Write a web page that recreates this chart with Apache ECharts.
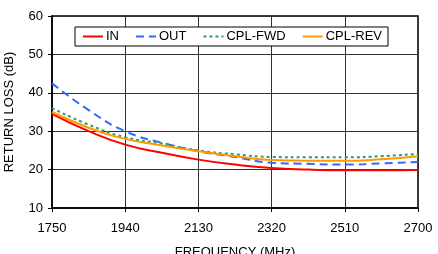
<!DOCTYPE html>
<html>
<head>
<meta charset="utf-8">
<script src="https://cdn.jsdelivr.net/npm/echarts@6/dist/echarts.min.js"></script>
<style>
  html, body { margin: 0; padding: 0; background: #fff; }
  #chart { width: 438px; height: 254px; }
</style>
</head>
<body>
<div id="chart"></div>
<script>
// frequency points (MHz), every other one is labelled
const freqs = ['1750', '1845', '1940', '2035', '2130', '2225', '2320', '2415', '2510', '2605', '2700'];
const inLoss = [34.5, 30.0, 26.5, 24.4, 22.6, 21.3, 20.4, 20.0, 19.8, 19.8, 19.9];
const outLoss = [42.5, 35.5, 30.0, 27.0, 24.8, 23.3, 21.8, 21.5, 21.3, 21.6, 22.0];
const cplFwd = [36.0, 31.7, 28.4, 26.8, 25.0, 24.0, 23.3, 23.2, 23.2, 23.5, 24.1];
const cplRev = [35.0, 30.9, 28.0, 26.3, 24.8, 23.5, 22.5, 22.3, 22.3, 22.7, 23.5];

const font = 'Liberation Sans, Arial, sans-serif';
const chart = echarts.init(document.getElementById('chart'));

function line(name, data, color, type) {
  return {
    name: name,
    type: 'line',
    data: data,
    smooth: true,
    showSymbol: false,
    symbol: 'none',
    lineStyle: { color: color, width: 2, type: type },
    itemStyle: { color: color },
  };
}

chart.setOption({
  animation: false,
  textStyle: { fontFamily: font },
  grid: {
    left: 52, right: 20, top: 16, bottom: 46,
    outerBoundsMode: 'none',
    containLabel: false,
    show: true, borderColor: '#000', borderWidth: 1.5,
  },
  legend: {
    top: 27,
    left: 75,
    padding: [3, 6, 3, 7],
    itemGap: 16,
    itemWidth: 20,
    itemHeight: 10,
    backgroundColor: '#fff',
    borderColor: '#000',
    borderWidth: 1,
    itemStyle: { opacity: 0 },
    textStyle: { fontFamily: font, fontSize: 13, color: '#000', padding: [0, 0, 0, -2] },
    data: ['IN', 'OUT', 'CPL-FWD', 'CPL-REV'],
  },
  xAxis: {
    type: 'category',
    data: freqs,
    boundaryGap: false,
    name: 'FREQUENCY (MHz)',
    nameLocation: 'middle',
    nameGap: 38,
    nameTextStyle: { fontFamily: font, fontSize: 13, color: '#000' },
    axisLine: { lineStyle: { color: '#000', width: 1.5 } },
    axisTick: { show: true, interval: 1, length: 4, lineStyle: { color: '#000' } },
    axisLabel: { interval: 1, fontSize: 13, color: '#000', margin: 14, fontFamily: font },
    splitLine: { show: true, interval: 1, lineStyle: { color: '#333', width: 1 } },
  },
  yAxis: {
    type: 'value',
    min: 10,
    max: 60,
    interval: 10,
    name: 'RETURN LOSS (dB)',
    nameLocation: 'middle',
    nameGap: 36,
    nameTextStyle: { fontFamily: font, fontSize: 13, color: '#000' },
    axisLine: { show: true, lineStyle: { color: '#000', width: 1.5 } },
    axisTick: { show: true, length: 4, lineStyle: { color: '#000' } },
    axisLabel: { fontSize: 13, color: '#000', margin: 9, fontFamily: font },
    splitLine: { show: true, lineStyle: { color: '#333', width: 1 } },
  },
  series: [
    line('IN', inLoss, '#ff0000', 'solid'),
    line('OUT', outLoss, '#3366ff', [8, 5]),
    line('CPL-FWD', cplFwd, '#339966', [3, 3]),
    line('CPL-REV', cplRev, '#ff9900', 'solid'),
  ],
});
</script>
</body>
</html>
